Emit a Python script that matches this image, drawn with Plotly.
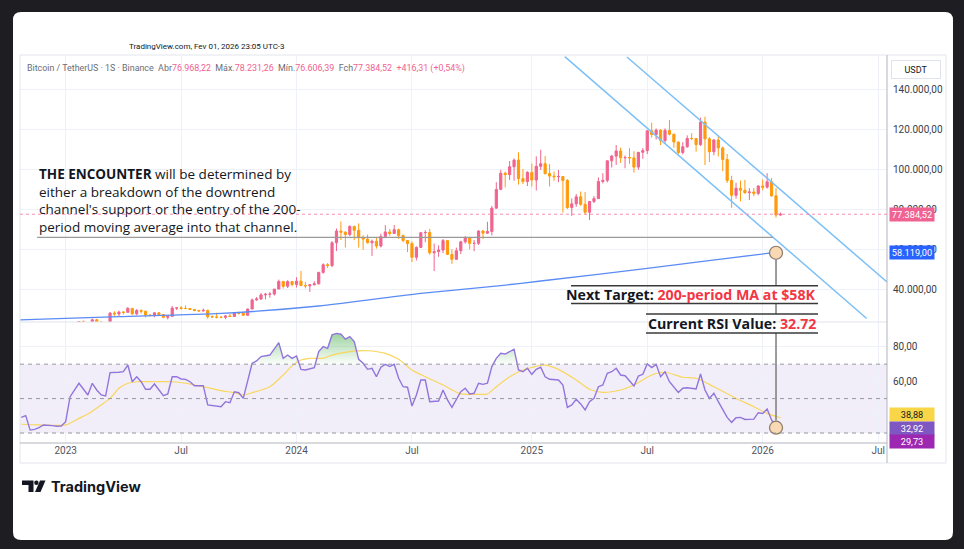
import numpy as np
import pandas as pd
import plotly.graph_objects as go

# ---------------- data ----------------
# Weekly BTC/USDT candles, thousands of USDT, first candle = week of 2023-01-02
first_open_k = 16.62
close_k = [
    # 2023
    17.13, 20.88, 22.71, 23.74, 22.93, 21.78, 24.63, 23.55, 22.43, 22.13, 28.00, 27.48, 28.45,
    28.33, 30.30, 27.59, 29.23, 28.90, 26.92, 26.75, 28.08, 27.23, 25.84, 26.34, 30.47, 30.58,
    30.29, 30.23, 29.79, 29.28, 29.05, 29.31, 26.10, 26.00, 25.87, 25.83, 26.53, 26.25, 27.97,
    27.92, 26.85, 29.99, 34.53, 35.01, 37.06, 37.36, 37.45, 39.97, 43.79, 41.37, 43.70, 42.28,
    # 2024
    43.93, 41.73, 41.58, 42.12, 42.58, 48.30, 52.14, 51.73, 63.11, 68.96, 68.39, 67.21, 71.30,
    69.36, 65.66, 64.94, 63.12, 63.90, 61.48, 66.27, 68.51, 67.76, 69.65, 66.68, 64.25, 62.67,
    55.86, 60.80, 68.16, 68.25, 58.10, 58.71, 59.49, 64.20, 57.30, 54.84, 59.13, 63.58, 65.60,
    62.82, 62.85, 69.00, 67.93, 68.78, 80.40, 89.80, 97.90, 97.18, 101.11, 104.46, 95.19, 93.72,
    98.30,
    # 2025
    94.50, 101.33, 102.62, 97.70, 96.46, 96.12, 96.26, 94.27, 80.73, 82.58, 86.08, 82.33, 78.37,
    83.76, 85.18, 93.75, 94.32, 104.10, 106.45, 109.00, 105.64, 105.73, 105.55, 100.96, 108.35,
    109.20, 119.08, 117.27, 119.45, 114.20, 119.30, 117.40, 113.50, 108.25, 111.14, 115.27,
    115.23, 112.16, 123.50, 115.07, 108.64, 114.50, 110.54, 104.72, 94.26, 86.83, 90.39, 89.39,
    88.17, 88.50, 87.80, 91.50,
    # 2026
    90.90, 93.60, 86.60, 76.968, 77.385,
]
high_k = [
    17.2, 21.3, 23.4, 23.8, 24.25, 23.45, 25.25, 25.12, 23.9, 22.6, 28.4, 28.87, 29.19,
    28.8, 31.0, 30.4, 30.0, 29.8, 28.9, 27.6, 28.3, 28.45, 27.4, 26.8, 31.43, 31.0,
    31.38, 31.8, 30.33, 29.79, 29.5, 30.25, 29.7, 26.8, 28.14, 26.4, 26.9, 27.48, 28.06,
    28.6, 27.99, 30.2, 35.2, 35.98, 37.97, 37.99, 38.42, 40.0, 44.7, 44.0, 44.4, 43.8,
    45.9, 48.97, 43.58, 42.25, 43.88, 48.6, 52.8, 52.98, 64.0, 70.2, 73.78, 68.9, 71.77,
    71.6, 72.8, 66.87, 67.2, 64.7, 65.5, 67.7, 71.95, 70.0, 71.99, 70.2, 67.3, 64.5,
    63.8, 61.3, 68.3, 69.4, 70.08, 62.75, 61.8, 65.0, 64.5, 59.8, 60.7, 64.1, 66.5,
    66.0, 64.5, 69.4, 69.5, 73.6, 81.5, 93.4, 99.59, 98.7, 104.0, 105.25, 108.35, 99.9,
    98.9,
    102.7, 106.3, 109.6, 106.45, 102.5, 98.8, 99.5, 96.5, 95.0, 85.3, 87.5, 88.75, 88.5,
    83.9, 86.5, 95.8, 97.9, 104.3, 107.1, 111.98, 110.7, 106.8, 110.4, 108.9, 108.5,
    110.5, 119.5, 123.2, 120.25, 119.8, 120.3, 124.47, 117.6, 113.6, 113.4, 116.8,
    117.9, 115.4, 125.7, 126.2, 115.97, 115.0, 116.4, 111.2, 107.5, 96.6, 93.1, 94.15,
    94.6, 90.4, 90.5, 91.9,
    94.8, 97.9, 95.5, 90.5, 78.231,
]
low_k = [
    16.5, 17.1, 20.4, 22.3, 22.5, 21.35, 21.53, 23.1, 21.97, 19.55, 21.9, 26.6, 26.5,
    27.2, 28.17, 27.1, 26.94, 27.7, 25.8, 26.3, 25.87, 26.5, 25.35, 24.8, 26.25, 29.5,
    29.7, 29.95, 29.5, 28.86, 28.6, 28.7, 25.17, 25.8, 25.33, 25.37, 24.9, 26.0, 26.0,
    27.2, 26.55, 26.8, 29.9, 34.1, 34.5, 34.8, 35.63, 36.7, 39.97, 40.2, 40.5, 41.3,
    40.75, 41.5, 40.28, 38.55, 41.8, 42.25, 47.7, 50.52, 50.9, 59.0, 64.5, 60.77, 66.4,
    64.5, 60.7, 59.6, 62.8, 56.55, 60.19, 60.75, 66.05, 66.6, 67.6, 65.05, 63.38, 58.4,
    53.5, 54.26, 60.6, 63.4, 57.1, 49.0, 56.1, 57.9, 57.2, 52.55, 54.6, 57.5, 62.7,
    59.8, 58.9, 62.0, 65.0, 67.5, 66.8, 80.2, 89.4, 90.8, 94.5, 94.15, 92.2, 92.5,
    91.5,
    91.2, 89.26, 99.5, 97.2, 91.23, 94.1, 93.4, 78.25, 80.0, 76.6, 81.1, 81.6, 77.1,
    74.5, 83.0, 85.1, 92.8, 93.3, 100.7, 102.0, 103.0, 100.37, 102.6, 98.2, 99.6,
    105.1, 107.5, 115.7, 114.7, 112.0, 112.65, 116.8, 110.6, 107.3, 107.3, 110.6,
    114.4, 108.65, 111.6, 102.0, 103.5, 106.9, 106.3, 98.9, 93.0, 80.6, 85.2, 83.8,
    87.6, 84.45, 86.4, 86.9,
    89.3, 90.2, 86.1, 75.7, 76.606,
]

# RSI pane, week numbers counted from 2022-10-17
rsi_week = [1, 2, 3, 4, 5, 6, 8, 9, 10, 11, 12, 13, 14, 16, 17, 18, 19, 20, 21, 23,
            24, 25, 26, 27, 28, 29, 30, 31, 32, 33, 34, 35, 36, 37, 38, 39, 40, 42, 43, 44,
            46, 47, 48, 49, 50, 51, 52, 53, 54, 55, 57, 59, 60, 61, 62, 63, 64, 65, 67, 68,
            69, 70, 71, 72, 73, 74, 75, 76, 77, 78, 79, 80, 81, 82, 83, 84, 85, 86, 87, 88,
            89, 90, 91, 92, 93, 94, 95, 96, 97, 98, 99, 100, 101, 102, 103, 104, 105, 106, 107, 108,
            109, 110, 112, 113, 114, 115, 116, 117, 118, 119, 120, 122, 123, 124, 125, 126, 127, 128, 129, 130,
            131, 132, 133, 134, 135, 136, 137, 139, 140, 141, 142, 143, 144, 145, 146, 147, 149, 150, 151, 153,
            154, 155, 156, 157, 158, 159, 160, 161, 162, 163, 164, 166, 167, 168, 169, 170, 171, 172]
rsi_value = [39.1, 40.1, 31.7, 32.1, 33.1, 34.7, 34.3, 33.9, 34.1, 36.6, 51.1, 55.0, 58.9, 52.1, 58.9, 55.0, 52.1, 51.5, 65.1, 65.3,
             65.7, 69.5, 59.8, 62.7, 59.8, 55.4, 55.4, 58.5, 55.4, 51.7, 52.7, 62.7, 62.7, 61.4, 61.2, 59.8, 57.5, 57.5, 46.3, 45.9,
             45.3, 48.2, 47.6, 54.0, 53.4, 50.1, 60.8, 70.5, 71.9, 74.4, 75.3, 82.5, 73.4, 75.3, 73.4, 74.8, 67.0, 66.6, 68.0, 77.3,
             80.2, 79.2, 87.0, 87.9, 87.4, 84.5, 86.0, 83.1, 72.8, 70.5, 67.0, 67.6, 62.7, 68.2, 69.9, 68.6, 69.9, 61.8, 56.9, 56.6,
             45.7, 52.1, 60.8, 60.8, 48.2, 48.6, 48.6, 55.0, 49.2, 44.9, 49.2, 54.0, 56.0, 52.7, 53.1, 58.9, 58.3, 58.9, 68.6, 73.4,
             76.3, 75.9, 78.7, 66.6, 65.6, 67.6, 64.1, 67.0, 68.2, 62.7, 61.2, 60.8, 57.9, 44.9, 46.3, 49.6, 46.9, 43.4, 48.2, 50.1,
             56.9, 57.9, 64.7, 65.6, 67.6, 63.7, 63.3, 57.3, 63.1, 64.1, 70.1, 68.0, 69.9, 62.7, 65.6, 59.8, 53.6, 56.0, 56.3, 55.6,
             64.3, 55.0, 50.1, 53.1, 48.2, 43.4, 39.1, 36.2, 38.9, 39.1, 37.9, 38.1, 41.8, 41.4, 44.0, 37.6, 33.1, 32.92]
rsi_ma_week = [1, 5, 11, 14, 16, 19, 21, 23, 25, 27, 31, 35, 38, 42, 46, 49, 51, 53, 57, 60,
               62, 64, 66, 69, 71, 75, 79, 83, 86, 89, 92, 96, 100, 103, 106, 108, 111, 114, 119, 122,
               126, 129, 132, 136, 139, 143, 146, 150, 153, 157, 162, 166, 169, 172]
rsi_ma_value = [35.1, 34.7, 34.7, 38.5, 41.0, 46.3, 50.1, 56.0, 58.9, 59.8, 59.8, 59.8, 58.9, 56.9, 54.6, 53.4, 52.1, 53.4, 56.9, 63.7,
                69.0, 72.4, 73.4, 73.4, 75.3, 77.3, 77.8, 76.3, 72.8, 66.6, 62.7, 57.9, 52.7, 52.5, 52.7, 56.9, 62.7, 66.6, 69.5, 67.0,
                60.8, 55.4, 53.6, 55.0, 57.9, 63.7, 65.3, 62.4, 61.8, 56.9, 50.1, 45.3, 41.4, 38.88]

# 200-period moving average (thousands of USDT)
ma_week = [0, 23, 46, 68, 91, 109, 118, 142, 169, 171]
ma_value_k = [24.5, 26.2, 27.8, 31.5, 37.8, 41.7, 44.0, 50.3, 57.8, 58.119]

# drawings on the chart
channel_low_dates = ["2025-02-27", "2026-06-18"]
channel_low_k = [156.2, 25.25]
channel_high_dates = ["2025-06-05", "2026-07-20"]
channel_high_k = [156.0, 43.5]
level_dates = ["2022-11-18", "2026-01-21"]
level_k = [65.85, 65.85]
target_week = 171

last_price = 77384.52
rsi_last, rsi_ma_last, rsi_low_tag = 32.92, 38.88, 29.73

x_tick_dates = ["2023-01-02", "2023-07-03", "2024-01-01", "2024-07-01",
                "2025-01-06", "2025-07-07", "2026-01-05", "2026-07-06"]
x_tick_text = ["2023", "Jul", "2024", "Jul", "2025", "Jul", "2026", "Jul"]
price_ticks = [40000, 60000, 80000, 100000, 120000, 140000]
price_tick_text = ["40.000,00", "60.000,00", "80.000,00", "100.000,00", "120.000,00", "140.000,00"]
rsi_ticks = [40, 60, 80]
rsi_tick_text = ["", "60,00", "80,00"]   # 40 sits under the value tags

# ---------------- helpers ----------------
week0 = pd.Timestamp("2022-10-17")


def wk(w):
    return week0 + pd.to_timedelta(np.atleast_1d(np.asarray(w, dtype=float)) * 7, unit="D")


L, R, T, B = 20, 887, 56, 443     # plot area in pixels


def px(x):
    return (x - L) / (R - L)


def py(y):
    return (B - y) / (B - T)


def poly(points):
    return "M " + " L ".join(f"{px(x):.5f},{py(y):.5f}" for x, y in points) + " Z"


def rounded_rect(x0, y0, x1, y1, r):
    p = lambda x, y: f"{px(x):.5f},{py(y):.5f}"
    return (f"M {p(x0 + r, y0)} L {p(x1 - r, y0)} Q {p(x1, y0)} {p(x1, y0 + r)} "
            f"L {p(x1, y1 - r)} Q {p(x1, y1)} {p(x1 - r, y1)} L {p(x0 + r, y1)} "
            f"Q {p(x0, y1)} {p(x0, y1 - r)} L {p(x0, y0 + r)} Q {p(x0, y0)} {p(x0 + r, y0)} Z")


def hline(x0, x1, y, color="#3a3a3a", width=1.5):
    return dict(type="line", xref="paper", yref="paper", x0=px(x0), x1=px(x1), y0=py(y), y1=py(y),
                line=dict(color=color, width=width))


def vseg(y0, y1):
    return dict(type="line", xref="x", yref="paper", x0=target_date, x1=target_date,
                y0=py(y0), y1=py(y1), line=dict(color="#7b7b7b", width=1.5))


UP, DOWN = "#f0648f", "#ff9a0d"
GRID = "#eef1f7"
FONT = "Roboto"

closes = np.array(close_k) * 1000
opens = np.array([first_open_k] + close_k[:-1]) * 1000
highs = np.array(high_k) * 1000
lows = np.array(low_k) * 1000
candle_dates = pd.date_range("2023-01-02", periods=len(close_k), freq="7D")
target_date = wk(target_week)[0]

# overbought fill boundary (RSI above 70), with crossing points added
rw, rv = np.array(rsi_week, float), np.array(rsi_value, float)
fill_w, fill_v = [rw[0]], [max(rv[0], 70)]
for i in range(1, len(rw)):
    a, b = rv[i - 1], rv[i]
    if (a - 70) * (b - 70) < 0:
        t = (70 - a) / (b - a)
        fill_w.append(rw[i - 1] + t * (rw[i] - rw[i - 1]))
        fill_v.append(70)
    fill_w.append(rw[i])
    fill_v.append(max(b, 70))

fig = go.Figure()

fig.add_trace(go.Candlestick(
    x=candle_dates, open=opens, high=highs, low=lows, close=closes,
    increasing=dict(line=dict(color=UP, width=1), fillcolor=UP),
    decreasing=dict(line=dict(color=DOWN, width=1), fillcolor=DOWN),
    whiskerwidth=0, xaxis="x", yaxis="y", hoverinfo="skip"))

fig.add_trace(go.Scatter(x=wk(ma_week), y=np.array(ma_value_k) * 1000, mode="lines",
                         line=dict(color="#5b8cf5", width=1.3, shape="spline", smoothing=0.6),
                         xaxis="x", yaxis="y"))
for d, v in ((channel_low_dates, channel_low_k), (channel_high_dates, channel_high_k)):
    fig.add_trace(go.Scatter(x=d, y=np.array(v) * 1000, mode="lines",
                             line=dict(color="#7cc0f7", width=1.5), xaxis="x", yaxis="y"))
fig.add_trace(go.Scatter(x=level_dates, y=np.array(level_k) * 1000, mode="lines",
                         line=dict(color="#9a9a9a", width=1.3), xaxis="x", yaxis="y"))

# RSI pane
fig.add_trace(go.Scatter(x=wk(fill_w), y=[70] * len(fill_w), mode="lines",
                         line=dict(width=0), xaxis="x", yaxis="y2"))
fig.add_trace(go.Scatter(x=wk(fill_w), y=fill_v, mode="lines", line=dict(width=0),
                         fill="tonexty",
                         fillgradient=dict(type="vertical", start=70, stop=88,
                                           colorscale=[[0, "rgba(76,175,80,0.02)"],
                                                       [1, "rgba(76,175,80,0.55)"]]),
                         xaxis="x", yaxis="y2"))
fig.add_trace(go.Scatter(x=wk(rsi_ma_week), y=rsi_ma_value, mode="lines",
                         line=dict(color="#f9d65c", width=1.2, shape="spline", smoothing=0.7),
                         xaxis="x", yaxis="y2"))
fig.add_trace(go.Scatter(x=wk(rsi_week), y=rsi_value, mode="lines",
                         line=dict(color="#9275dc", width=1.4), xaxis="x", yaxis="y2"))

# highlighted points
circle = dict(size=13, color="#f8d9b4", line=dict(color="#8a7968", width=1.2))
fig.add_trace(go.Scatter(x=wk([ma_week[-1]]), y=[ma_value_k[-1] * 1000], mode="markers",
                         marker=circle, xaxis="x", yaxis="y"))
fig.add_trace(go.Scatter(x=wk([target_week]), y=[rsi_value[rsi_week.index(target_week)]],
                         mode="markers", marker=circle, xaxis="x", yaxis="y2"))

# ---------------- shapes ----------------
shapes = [
    dict(type="path", xref="paper", yref="paper", path=rounded_rect(13, 12, 953, 540, 8),
         fillcolor="white", line=dict(width=0), layer="below"),
    dict(type="rect", xref="paper", yref="paper", x0=px(20), x1=px(946), y0=py(463), y1=py(55),
         line=dict(color="#e3e6ec", width=1)),
    hline(20, 887, 322, "#e0e3eb", 1),
    hline(20, 887, 443, "#b2b5be", 1),
    dict(type="line", xref="paper", yref="paper", x0=1, x1=1, y0=py(463), y1=py(55),
         line=dict(color="#b2b5be", width=1)),
    dict(type="rect", xref="paper", yref="y2", x0=0, x1=1, y0=30, y1=70,
         fillcolor="rgba(126,87,194,0.10)", line=dict(width=0), layer="below"),
    dict(type="line", xref="paper", yref="y", x0=0, x1=1, y0=last_price, y1=last_price,
         line=dict(color="#f48fb1", width=1, dash="dot")),
    vseg(259.5, 285.7), vseg(303.5, 314), vseg(333, 420.5),
    hline(571, 818, 285.7), hline(571, 818, 303.5),
    hline(646, 818, 314), hline(646, 818, 333),
    # TradingView logo mark
    dict(type="path", xref="paper", yref="paper", fillcolor="#131722", line=dict(width=0),
         path=poly([(22, 480.5), (33.5, 480.5), (33.5, 492), (28.5, 492), (28.5, 485), (22, 485)])),
    dict(type="circle", xref="paper", yref="paper", fillcolor="#131722", line=dict(width=0),
         x0=px(34.2), x1=px(38.6), y0=py(485), y1=py(480.6)),
    dict(type="path", xref="paper", yref="paper", fillcolor="#131722", line=dict(width=0),
         path=poly([(40, 480.5), (45.5, 480.5), (40.5, 492), (35, 492)])),
]
for lvl in (70, 50, 30):
    shapes.append(dict(type="line", xref="paper", yref="y2", x0=0, x1=1, y0=lvl, y1=lvl,
                       line=dict(color="#9598a1", width=1, dash="4px,4px")))

# ---------------- annotations ----------------
PINK = "#f06292"
gray = "#6a6d78"
legend_row = (f"<span style='color:{gray}'>Bitcoin / TetherUS · 1S · Binance  Abr</span>76.968,22"
              f"<span style='color:{gray}'>  Máx.</span>78.231,26"
              f"<span style='color:{gray}'>  Mín.</span>76.606,39"
              f"<span style='color:{gray}'>  Fch</span>77.384,52  +416,31 (+0,54%)")


def tag(y, yref, text, bg, fg):
    return dict(x=1, xref="paper", xanchor="left", xshift=2, y=y, yref=yref, yanchor="middle",
                text=text, showarrow=False, bgcolor=bg, width=42, height=11, borderpad=1,
                font=dict(family=FONT, size=9.2, color=fg))


annotations = [
    dict(x=px(127), y=py(47), xref="paper", yref="paper", xanchor="left", yanchor="middle",
         text="TradingView.com, Fev 01, 2026 23:05 UTC-3", showarrow=False,
         font=dict(family=FONT, size=8, color="#131722")),
    dict(x=px(25), y=py(68), xref="paper", yref="paper", xanchor="left", yanchor="middle",
         text=legend_row, showarrow=False, font=dict(family=FONT, size=8.9, color=PINK)),
    dict(x=px(916), y=py(69), xref="paper", yref="paper", xanchor="center", yanchor="middle",
         text="USDT", showarrow=False, width=44, height=13, bordercolor="#e0e3eb", borderwidth=1,
         borderpad=2, bgcolor="white", font=dict(family=FONT, size=9, color="#131722")),
    tag(last_price, "y", "77.384,52", "#f06292", "white"),
    tag(ma_value_k[-1] * 1000, "y", "58.119,00", "#2962ff", "white"),
    tag(py(414), "paper", f"{rsi_ma_last:.2f}".replace(".", ","), "#f9d648", "#131722"),
    tag(py(428), "paper", f"{rsi_last:.2f}".replace(".", ","), "#7e57c2", "white"),
    tag(py(441), "paper", f"{rsi_low_tag:.2f}".replace(".", ","), "#9c27b0", "white"),
    dict(x=px(37), y=py(163), xref="paper", yref="paper", xanchor="left", yanchor="top",
         align="left", showarrow=False,
         text=("<b>THE ENCOUNTER</b> will be determined by<br>either a breakdown of the downtrend<br>"
               "channel's support or the entry of the 200-<br>period moving average into that channel."),
         font=dict(family="Open Sans", size=13.5, color="#131722")),
    dict(x=px(818), y=py(294.6), xref="paper", yref="paper", xanchor="right", yanchor="middle",
         showarrow=False,
         text="<b>Next Target: <span style='color:#f23645'>200-period MA at $58K</span></b>",
         font=dict(family="Open Sans", size=14.2, color="#131722")),
    dict(x=px(818), y=py(323.5), xref="paper", yref="paper", xanchor="right", yanchor="middle",
         showarrow=False,
         text="<b>Current RSI Value: <span style='color:#f23645'>32.72</span></b>",
         font=dict(family="Open Sans", size=14.2, color="#131722")),
    dict(x=px(49), y=py(486), xref="paper", yref="paper", xanchor="left", yanchor="middle",
         text="<b>TradingView</b>", showarrow=False,
         font=dict(family="Inter", size=14.5, color="#131722")),
]

axis_font = dict(family=FONT, size=10, color="#3b3e48")
fig.update_layout(
    width=964, height=549,
    margin=dict(l=L, r=964 - R, t=T, b=549 - B),
    paper_bgcolor="#1e1e22", plot_bgcolor="white",
    showlegend=False,
    xaxis=dict(type="date", range=["2022-10-22", "2026-07-20"], anchor="y2",
               tickvals=x_tick_dates, ticktext=x_tick_text, showgrid=True, gridcolor=GRID,
               tickfont=dict(family=FONT, size=10, color="#50535e"), ticks="",
               zeroline=False, showline=False, rangeslider=dict(visible=False), fixedrange=True),
    yaxis=dict(domain=[py(322), 1], range=[23500, 156500], side="right", anchor="x",
               tickvals=price_ticks, ticktext=price_tick_text, gridcolor=GRID, ticks="",
               tickfont=axis_font, zeroline=False, showline=False, fixedrange=True,
               ticklabelstandoff=5),
    yaxis2=dict(domain=[0, py(322)], range=[24.2, 94.5], side="right", anchor="x",
                tickvals=rsi_ticks, ticktext=rsi_tick_text, gridcolor=GRID, ticks="",
                tickfont=axis_font, zeroline=False, showline=False, fixedrange=True,
                ticklabelstandoff=5),
    shapes=shapes,
    annotations=annotations,
)

# page body has a default 8px margin; remove it so the figure sits at the window corner
fig.write_html("out.html", config={"displayModeBar": False},
               post_script="document.body.style.margin = '0';")
